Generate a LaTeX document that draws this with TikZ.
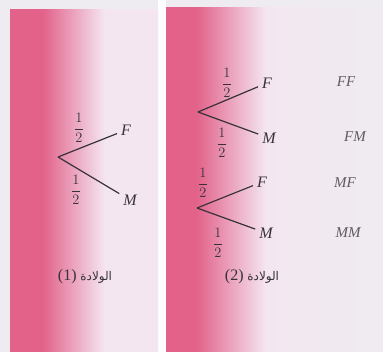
\documentclass[tikz,border=0pt]{standalone}
\usepackage{fontspec}
\setmainfont{Liberation Serif}
\newfontfamily\arabicfont[Script=Arabic]{DejaVu Sans}
\TeXXeTstate=1
\usetikzlibrary{positioning}
\definecolor{pagegray}{RGB}{238,236,240}
\definecolor{rosepink}{RGB}{226,98,138}
\definecolor{palerose}{RGB}{244,230,240}
\definecolor{inkgray}{RGB}{55,50,58}
% the shaded path covers 25bp--75bp of the shading
\pgfdeclarehorizontalshading{panelone}{100bp}{color(0bp)=(rosepink); color(36bp)=(rosepink); color(57bp)=(palerose); color(100bp)=(palerose)}
\pgfdeclarehorizontalshading{paneltwo}{100bp}{color(0bp)=(rosepink); color(32bp)=(rosepink); color(48bp)=(palerose); color(75bp)=(pagegray); color(100bp)=(pagegray)}
\newcommand{\half}{$\displaystyle\frac{1}{2}$}
\newcommand{\birth}[1]{{\arabicfont\fontsize{12}{14}\selectfont\beginR الولادة \beginL{\rmfamily\fontsize{16}{18}\selectfont(#1)}\endL\endR}}

\begin{document}
\begin{tikzpicture}[
		x=1pt, y=-1pt,
		branch/.style={draw=inkgray, line width=1.2pt, shorten >=1pt},
		outcome/.style={font=\fontsize{16}{18}\selectfont\itshape, text=inkgray, inner sep=3pt},
		prob/.style={font=\fontsize{15}{17}\selectfont, text=inkgray, inner sep=0pt},
		pair/.style={font=\fontsize{15}{17}\selectfont\itshape, text=inkgray!80},
		caption/.style={text=inkgray}
		]
		
		% ==========================================
		% Page and the two pink panels
		% ==========================================
		\useasboundingbox (0,0) rectangle (383,352);
		\fill[pagegray] (0,0) rectangle (383,352);
		\fill[white!94!pagegray] (158,0) rectangle (166,352);
		\shade[shading=panelone] (10,10) rectangle (158,352);
		\shade[shading=paneltwo] (166,8) rectangle (383,352);
		
		% ==========================================
		% Birth 1
		% ==========================================
		\coordinate (r1) at (58,157);
		\node[outcome] (f1) at (126,130) {F};
		\node[outcome] (m1) at (130,200) {M};
		\draw[branch] (r1) -- (f1);
		\draw[branch] (r1) -- (m1);
		\node[prob] (pf1) at (79,128) {\half};
		\node[prob] (pm1) at (76,190) {\half};
		
		\node[caption] (cap1) at (85,277) {\birth{1}};
		
		% ==========================================
		% Birth 2
		% ==========================================
		\coordinate (r2) at (198,112);
		\node[outcome] (f2) at (267,83) {F};
		\node[outcome] (m2) at (269,138) {M};
		\draw[branch] (r2) -- (f2);
		\draw[branch] (r2) -- (m2);
		\node[prob] (pf2) at (227,83) {\half};
		\node[prob] (pm2) at (222,143) {\half};
		
		\coordinate (r3) at (197,208);
		\node[outcome] (f3) at (262,182) {F};
		\node[outcome] (m3) at (266,233) {M};
		\draw[branch] (r3) -- (f3);
		\draw[branch] (r3) -- (m3);
		\node[prob] (pf3) at (203,183) {\half};
		\node[prob] (pm3) at (218,243) {\half};
		
		% outcomes of both births
		\node[pair] (ff) at (346,82) {FF};
		\node[pair] (fm) at (355,137) {FM};
		\node[pair] (mf) at (345,183) {MF};
		\node[pair] (mm) at (348,233) {MM};
		
		\node[caption] (cap2) at (252,277) {\birth{2}};
		
	\end{tikzpicture}
\end{document}
